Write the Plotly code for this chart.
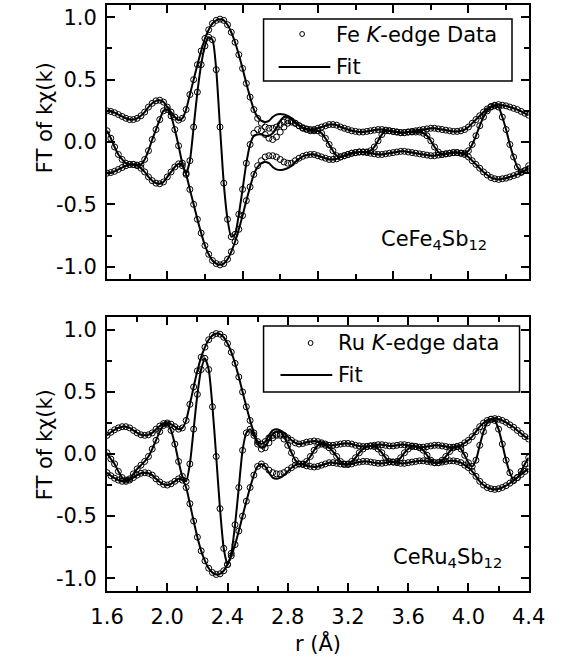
import plotly.graph_objects as go

W, H = 577, 664

# ---------------- data ----------------
R_GRID = [round(1.6 + 0.025 * i, 3) for i in range(113)]   # r grid (Å)

FE_MAG_DATA = [
    0.25, 0.245, 0.235, 0.22, 0.205, 0.19, 0.18, 0.18, 0.19, 0.21,
    0.24, 0.28, 0.31, 0.33, 0.335, 0.32, 0.28, 0.24, 0.20, 0.175,
    0.19, 0.26, 0.38, 0.50, 0.62, 0.73, 0.83, 0.90, 0.95, 0.975,
    0.985, 0.975, 0.94, 0.88, 0.80, 0.70, 0.59, 0.47, 0.36, 0.26,
    0.19, 0.15, 0.12, 0.11, 0.11, 0.12, 0.14, 0.16, 0.17, 0.17,
    0.15, 0.13, 0.115, 0.105, 0.10, 0.10, 0.11, 0.12, 0.13, 0.14,
    0.14, 0.135, 0.12, 0.11, 0.10, 0.09, 0.085, 0.08, 0.08, 0.085,
    0.09, 0.095, 0.10, 0.10, 0.095, 0.09, 0.085, 0.08, 0.075, 0.075,
    0.08, 0.085, 0.09, 0.095, 0.10, 0.105, 0.11, 0.11, 0.105, 0.10,
    0.095, 0.09, 0.085, 0.085, 0.09, 0.10, 0.12, 0.15, 0.18, 0.21,
    0.24, 0.265, 0.285, 0.295, 0.30, 0.295, 0.29, 0.28, 0.27, 0.26,
    0.245, 0.23, 0.215,
]
FE_RE_DATA = [
    0.09, 0.03, -0.04, -0.10, -0.14, -0.17, -0.18, -0.18, -0.185, -0.18,
    -0.14, -0.07, 0.02, 0.10, 0.18, 0.25, 0.26, 0.21, 0.10, -0.03,
    -0.17, -0.25, -0.15, 0.12, 0.40, 0.62, 0.77, 0.84, 0.82, 0.58,
    0.12, -0.33, -0.62, -0.76, -0.74, -0.58, -0.38, -0.17, -0.02, 0.07,
    0.10, 0.09, 0.06, 0.03, 0.02, 0.04, 0.08, 0.12, 0.15, 0.16,
    0.15, 0.13, 0.11, 0.10, 0.09, 0.09, 0.09, 0.07, 0.03, -0.02,
    -0.07, -0.11, -0.12, -0.11, -0.10, -0.09, -0.085, -0.08, -0.08, -0.08,
    -0.07, -0.04, 0.01, 0.06, 0.09, 0.09, 0.085, 0.08, 0.075, 0.075,
    0.08, 0.08, 0.08, 0.08, 0.07, 0.05, 0.01, -0.04, -0.08, -0.10,
    -0.095, -0.09, -0.085, -0.085, -0.09, -0.09, -0.07, -0.02, 0.05, 0.13,
    0.20, 0.25, 0.28, 0.29, 0.28, 0.20, 0.10, -0.02, -0.12, -0.20,
    -0.24, -0.23, -0.19,
]
FE_MAG_FIT = [
    0.25, 0.245, 0.235, 0.22, 0.205, 0.19, 0.18, 0.18, 0.19, 0.21,
    0.24, 0.28, 0.31, 0.33, 0.335, 0.32, 0.28, 0.24, 0.20, 0.175,
    0.19, 0.26, 0.38, 0.50, 0.62, 0.73, 0.83, 0.90, 0.95, 0.975,
    0.985, 0.975, 0.94, 0.88, 0.80, 0.70, 0.59, 0.47, 0.36, 0.26,
    0.20, 0.17, 0.16, 0.17, 0.20, 0.22, 0.225, 0.22, 0.21, 0.19,
    0.16, 0.135, 0.115, 0.105, 0.10, 0.10, 0.11, 0.12, 0.13, 0.14,
    0.14, 0.135, 0.12, 0.11, 0.10, 0.09, 0.085, 0.08, 0.08, 0.085,
    0.09, 0.095, 0.10, 0.10, 0.095, 0.09, 0.085, 0.08, 0.075, 0.075,
    0.08, 0.085, 0.09, 0.095, 0.10, 0.105, 0.11, 0.11, 0.105, 0.10,
    0.095, 0.09, 0.085, 0.085, 0.09, 0.10, 0.12, 0.15, 0.18, 0.21,
    0.24, 0.265, 0.285, 0.295, 0.30, 0.295, 0.29, 0.28, 0.27, 0.26,
    0.245, 0.23, 0.215,
]
FE_RE_FIT = [
    0.09, 0.03, -0.04, -0.10, -0.14, -0.17, -0.18, -0.18, -0.185, -0.18,
    -0.14, -0.07, 0.02, 0.10, 0.18, 0.25, 0.26, 0.21, 0.10, -0.03,
    -0.17, -0.25, -0.15, 0.12, 0.40, 0.62, 0.77, 0.84, 0.82, 0.58,
    0.12, -0.33, -0.62, -0.76, -0.74, -0.58, -0.38, -0.17, -0.02, 0.05,
    0.06, 0.06, 0.05, 0.05, 0.07, 0.11, 0.17, 0.20, 0.20, 0.18,
    0.15, 0.13, 0.11, 0.10, 0.09, 0.09, 0.09, 0.07, 0.03, -0.02,
    -0.07, -0.11, -0.12, -0.11, -0.10, -0.09, -0.085, -0.08, -0.08, -0.08,
    -0.07, -0.04, 0.01, 0.06, 0.09, 0.09, 0.085, 0.08, 0.075, 0.075,
    0.08, 0.08, 0.08, 0.08, 0.07, 0.05, 0.01, -0.04, -0.08, -0.10,
    -0.095, -0.09, -0.085, -0.085, -0.09, -0.09, -0.07, -0.02, 0.05, 0.13,
    0.20, 0.25, 0.28, 0.29, 0.28, 0.20, 0.10, -0.02, -0.12, -0.20,
    -0.24, -0.23, -0.19,
]

RU_MAG_DATA = [
    0.15, 0.175, 0.195, 0.21, 0.22, 0.22, 0.21, 0.19, 0.17, 0.155,
    0.15, 0.155, 0.17, 0.20, 0.225, 0.245, 0.25, 0.24, 0.22, 0.20,
    0.21, 0.27, 0.40, 0.54, 0.67, 0.78, 0.86, 0.92, 0.955, 0.97,
    0.965, 0.94, 0.89, 0.82, 0.73, 0.62, 0.50, 0.38, 0.27, 0.17,
    0.10, 0.08, 0.10, 0.13, 0.15, 0.16, 0.16, 0.15, 0.13, 0.11,
    0.09, 0.08, 0.085, 0.095, 0.10, 0.105, 0.10, 0.09, 0.08, 0.07,
    0.07, 0.075, 0.08, 0.085, 0.085, 0.08, 0.07, 0.065, 0.06, 0.06,
    0.065, 0.07, 0.075, 0.075, 0.07, 0.065, 0.065, 0.07, 0.075, 0.075,
    0.07, 0.065, 0.06, 0.055, 0.055, 0.06, 0.065, 0.07, 0.07, 0.065,
    0.06, 0.055, 0.055, 0.06, 0.07, 0.09, 0.11, 0.14, 0.18, 0.22,
    0.25, 0.27, 0.28, 0.285, 0.28, 0.27, 0.255, 0.235, 0.215, 0.19,
    0.165, 0.14, 0.12,
]
RU_RE_DATA = [
    0.01, -0.04, -0.08, -0.14, -0.19, -0.21, -0.20, -0.16, -0.12, -0.09,
    -0.06, -0.02, 0.04, 0.11, 0.18, 0.23, 0.24, 0.19, 0.08, -0.06,
    -0.18, -0.22, -0.08, 0.20, 0.48, 0.68, 0.77, 0.68, 0.38, -0.02,
    -0.44, -0.76, -0.89, -0.80, -0.57, -0.27, 0.03, 0.17, 0.20, 0.15,
    0.08, 0.04, 0.05, 0.09, 0.13, 0.15, 0.15, 0.12, 0.07, 0.01,
    -0.05, -0.08, -0.08, -0.06, -0.02, 0.03, 0.07, 0.08, 0.07, 0.05,
    0.02, -0.02, -0.06, -0.08, -0.08, -0.06, -0.03, 0.01, 0.04, 0.06,
    0.065, 0.06, 0.04, 0.01, -0.03, -0.06, -0.065, -0.06, -0.03, 0.01,
    0.04, 0.06, 0.06, 0.05, 0.03, -0.01, -0.05, -0.07, -0.07, -0.05,
    -0.02, 0.02, 0.05, 0.06, 0.04, -0.01, -0.07, -0.10, -0.05, 0.07,
    0.18, 0.25, 0.28, 0.27, 0.20, 0.08, -0.05, -0.15, -0.21, -0.19,
    -0.14, -0.08, -0.03,
]
RU_MAG_FIT = [
    0.15, 0.175, 0.195, 0.21, 0.22, 0.22, 0.21, 0.19, 0.17, 0.155,
    0.15, 0.155, 0.17, 0.20, 0.225, 0.245, 0.25, 0.24, 0.22, 0.20,
    0.21, 0.27, 0.40, 0.54, 0.67, 0.78, 0.86, 0.92, 0.955, 0.97,
    0.965, 0.94, 0.89, 0.82, 0.73, 0.62, 0.50, 0.38, 0.27, 0.17,
    0.10, 0.08, 0.10, 0.15, 0.19, 0.20, 0.19, 0.17, 0.14, 0.11,
    0.09, 0.08, 0.085, 0.095, 0.10, 0.105, 0.10, 0.09, 0.08, 0.07,
    0.07, 0.075, 0.08, 0.085, 0.085, 0.08, 0.07, 0.065, 0.06, 0.06,
    0.065, 0.07, 0.075, 0.075, 0.07, 0.065, 0.065, 0.07, 0.075, 0.075,
    0.07, 0.065, 0.06, 0.055, 0.055, 0.06, 0.065, 0.07, 0.07, 0.065,
    0.06, 0.055, 0.055, 0.06, 0.07, 0.09, 0.11, 0.14, 0.18, 0.22,
    0.25, 0.27, 0.28, 0.285, 0.28, 0.27, 0.255, 0.235, 0.215, 0.19,
    0.165, 0.14, 0.12,
]
RU_RE_FIT = [
    0.01, -0.04, -0.08, -0.14, -0.19, -0.21, -0.20, -0.16, -0.12, -0.09,
    -0.06, -0.02, 0.04, 0.11, 0.18, 0.23, 0.24, 0.19, 0.08, -0.06,
    -0.18, -0.22, -0.08, 0.20, 0.48, 0.68, 0.77, 0.68, 0.38, -0.02,
    -0.44, -0.76, -0.89, -0.80, -0.57, -0.27, 0.03, 0.17, 0.20, 0.15,
    0.08, 0.05, 0.06, 0.11, 0.16, 0.18, 0.18, 0.14, 0.08, 0.01,
    -0.05, -0.08, -0.08, -0.06, -0.02, 0.03, 0.07, 0.08, 0.07, 0.05,
    0.02, -0.02, -0.06, -0.08, -0.08, -0.06, -0.03, 0.01, 0.04, 0.06,
    0.065, 0.06, 0.04, 0.01, -0.03, -0.06, -0.065, -0.06, -0.03, 0.01,
    0.04, 0.06, 0.06, 0.05, 0.03, -0.01, -0.05, -0.07, -0.07, -0.05,
    -0.02, 0.02, 0.05, 0.06, 0.04, -0.01, -0.07, -0.10, -0.05, 0.07,
    0.18, 0.25, 0.28, 0.27, 0.20, 0.08, -0.05, -0.15, -0.21, -0.19,
    -0.14, -0.08, -0.03,
]

Y_TICKS = [-1.0, -0.5, 0.0, 0.5, 1.0]
Y_TICK_TEXT = ["-1.0", "-0.5", "0.0", "0.5", "1.0"]
Y_MINOR = [-0.75, -0.25, 0.25, 0.75]
X_TICKS_BOTTOM = [1.6, 2.0, 2.4, 2.8, 3.2, 3.6, 4.0, 4.4]
X_TICK_TEXT_BOTTOM = ["1.6", "2.0", "2.4", "2.8", "3.2", "3.6", "4.0", "4.4"]
X_MINOR_BOTTOM = [1.8, 2.2, 2.6, 3.0, 3.4, 3.8, 4.2]
X_TICKS_TOP = [2.0, 2.5, 3.0, 3.5, 4.0]
X_MINOR_TOP = [1.75, 2.25, 2.75, 3.25, 3.75, 4.25]

# ---------------- layout geometry (pixels) ----------------
def fx(px):
    return px / W

def fy(py):
    return 1 - py / H

X_DOM = [fx(95.7), fx(543.7)]
TOP_DOM = [fy(279.2), fy(4.8)]
BOT_DOM = [fy(590.6), fy(317.4)]

FONT = "DejaVu Sans, Verdana, sans-serif"
BLACK = "black"

fig = go.Figure()


def add_panel(xa, ya, mag_d, re_d, mag_f, re_f):
    neg_d = [-v for v in mag_d]
    neg_f = [-v for v in mag_f]
    for ys in (mag_d, neg_d, re_d):
        fig.add_trace(go.Scatter(
            x=R_GRID, y=ys, xaxis=xa, yaxis=ya, mode="markers",
            marker=dict(symbol="circle-open", size=6, color=BLACK,
                        line=dict(width=1, color=BLACK)),
            showlegend=False, hoverinfo="skip"))
    for ys in (mag_f, neg_f, re_f):
        fig.add_trace(go.Scatter(
            x=R_GRID, y=ys, xaxis=xa, yaxis=ya, mode="lines",
            line=dict(color=BLACK, width=2, shape="spline", smoothing=0.6),
            showlegend=False, hoverinfo="skip"))


add_panel("x", "y", FE_MAG_DATA, FE_RE_DATA, FE_MAG_FIT, FE_RE_FIT)
add_panel("x2", "y2", RU_MAG_DATA, RU_RE_DATA, RU_MAG_FIT, RU_RE_FIT)

tickfont = dict(family=FONT, size=21, color=BLACK)
common_axis = dict(showline=True, linecolor=BLACK, linewidth=2, mirror="allticks",
                   ticks="inside", ticklen=8, tickwidth=1.5, tickcolor=BLACK,
                   showgrid=False, zeroline=False, tickfont=tickfont)
minor_common = dict(ticks="inside", ticklen=5, tickwidth=1.5, tickcolor=BLACK, showgrid=False)

fig.update_layout(
    width=W, height=H,
    margin=dict(l=0, r=0, t=0, b=0),
    paper_bgcolor="white", plot_bgcolor="white",
    showlegend=False,
    xaxis=dict(domain=X_DOM, range=[1.6, 4.4], anchor="y",
               tickmode="array", tickvals=X_TICKS_TOP, showticklabels=False,
               minor=dict(tickmode="array", tickvals=X_MINOR_TOP, **minor_common),
               **common_axis),
    yaxis=dict(domain=TOP_DOM, range=[-1.1, 1.1], anchor="x",
               tickmode="array", tickvals=Y_TICKS, ticktext=Y_TICK_TEXT,
               ticklabelstandoff=4,
               minor=dict(tickmode="array", tickvals=Y_MINOR, **minor_common),
               **common_axis),
    xaxis2=dict(domain=X_DOM, range=[1.6, 4.4], anchor="y2",
                tickmode="array", tickvals=X_TICKS_BOTTOM, ticktext=X_TICK_TEXT_BOTTOM,
                ticklabelstandoff=6,
                minor=dict(tickmode="array", tickvals=X_MINOR_BOTTOM, **minor_common),
                **common_axis),
    yaxis2=dict(domain=BOT_DOM, range=[-1.1, 1.1], anchor="x2",
                tickmode="array", tickvals=Y_TICKS, ticktext=Y_TICK_TEXT,
                ticklabelstandoff=4,
                minor=dict(tickmode="array", tickvals=Y_MINOR, **minor_common),
                **common_axis),
)

shapes = []
annotations = []
TXT = dict(family=FONT, size=21, color=BLACK)


def legend_box(x0, x1, y0, y1, circ, line_y, line_x0, line_x1, label, text_x, text_y1):
    shapes.append(dict(type="rect", xref="paper", yref="paper",
                       x0=fx(x0), x1=fx(x1), y0=fy(y1), y1=fy(y0),
                       line=dict(color=BLACK, width=1.5), fillcolor="white", layer="above"))
    cx, cy = circ
    shapes.append(dict(type="circle", xref="paper", yref="paper",
                       x0=fx(cx - 2.5), x1=fx(cx + 2.5), y0=fy(cy + 2.5), y1=fy(cy - 2.5),
                       line=dict(color=BLACK, width=1), layer="above"))
    shapes.append(dict(type="line", xref="paper", yref="paper",
                       x0=fx(line_x0), x1=fx(line_x1), y0=fy(line_y), y1=fy(line_y),
                       line=dict(color=BLACK, width=2), layer="above"))
    annotations.append(dict(text=label, xref="paper", yref="paper", x=fx(text_x), y=fy(text_y1),
                            xanchor="left", yanchor="middle", showarrow=False, font=TXT))
    annotations.append(dict(text="Fit", xref="paper", yref="paper", x=fx(text_x), y=fy(line_y),
                            xanchor="left", yanchor="middle", showarrow=False, font=TXT))


legend_box(262, 526, 19, 81, (303, 34), 67, 278, 333, "Fe <i>K</i>-edge Data", 337, 35)
legend_box(262, 534, 326, 392, (312, 343), 375, 280, 335, "Ru <i>K</i>-edge data", 339, 343)

for txt, px, py in (("CeFe<sub>4</sub>Sb<sub>12</sub>", 443, 240),
                    ("CeRu<sub>4</sub>Sb<sub>12</sub>", 457, 558)):
    annotations.append(dict(text=txt, xref="paper", yref="paper", x=fx(px), y=fy(py),
                            xanchor="center", yanchor="middle", showarrow=False, font=TXT))

for py in (118, 445):
    annotations.append(dict(text="FT of kχ(k)", xref="paper", yref="paper", x=fx(30), y=fy(py),
                            xanchor="center", yanchor="middle", textangle=-90, showarrow=False,
                            font=TXT))

annotations.append(dict(text="r (Å)", xref="paper", yref="paper", x=fx(320), y=fy(643),
                        xanchor="center", yanchor="middle", showarrow=False, font=TXT))

fig.update_layout(shapes=shapes, annotations=annotations)

fig.write_html("out.html")
